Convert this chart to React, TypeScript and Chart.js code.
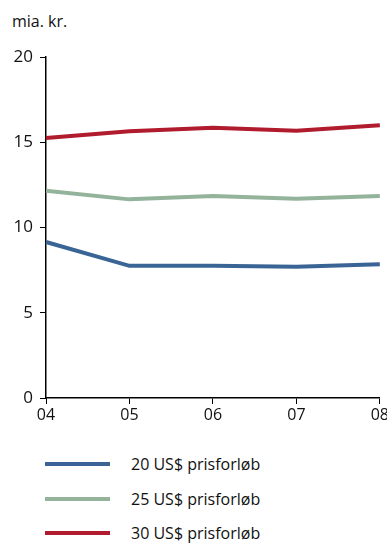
import React, { useEffect, useRef } from "react";
import { Chart, registerables } from "chart.js";

Chart.register(...registerables);

const years = ["04", "05", "06", "07", "08"];
const price20 = [9.15, 7.75, 7.75, 7.7, 7.85];
const price25 = [12.15, 11.65, 11.85, 11.68, 11.85];
const price30 = [15.25, 15.65, 15.85, 15.68, 16.0];
const yTicks = [0, 5, 10, 15, 20];

const seriesNames = ["20 US$ prisforløb", "25 US$ prisforløb", "30 US$ prisforløb"];
const seriesColors = ["#3a6495", "#93b39b", "#b01b2e"];

const FONT = "'Open Sans', 'Noto Sans', sans-serif";

export default function App() {
  const canvasRef = useRef<HTMLCanvasElement | null>(null);

  useEffect(() => {
    if (!canvasRef.current) return;
    const values = [price20, price25, price30];
    const chart = new Chart(canvasRef.current, {
      type: "line",
      data: {
        labels: years,
        datasets: values.map((v, i) => ({
          label: seriesNames[i],
          data: v,
          borderColor: seriesColors[i],
          backgroundColor: seriesColors[i],
          borderWidth: 4,
          pointRadius: 0,
          tension: 0,
          fill: false,
        })),
      },
      options: {
        animation: false,
        responsive: true,
        maintainAspectRatio: false,
        layout: { padding: { top: 57, right: 6, left: 0, bottom: 0 } },
        plugins: {
          legend: { display: false },
          tooltip: { enabled: false },
        },
        scales: {
          x: {
            offset: false,
            grid: {
              display: true,
              drawOnChartArea: false,
              drawTicks: true,
              tickLength: 6,
              color: "#000",
              lineWidth: 1,
            },
            border: { display: true, color: "#000", width: 1.5 },
            ticks: {
              color: "#111",
              font: { family: FONT, size: 16 },
              padding: 2,
              maxRotation: 0,
              autoSkip: false,
            },
            afterFit: (s: any) => {
              s.height = 32;
            },
          },
          y: {
            min: 0,
            max: 20,
            afterBuildTicks: (s: any) => {
              s.ticks = yTicks.map((v) => ({ value: v }));
            },
            grid: {
              display: true,
              drawOnChartArea: false,
              drawTicks: true,
              tickLength: 6,
              color: "#000",
              lineWidth: 1,
            },
            border: { display: true, color: "#000", width: 1.5 },
            ticks: {
              color: "#111",
              font: { family: FONT, size: 17 },
              padding: 7,
            },
            afterFit: (s: any) => {
              s.width = 46;
            },
          },
        },
      },
    });
    return () => chart.destroy();
  }, []);

  return (
    <div
      style={{
        position: "absolute",
        left: 0,
        top: 0,
        width: 387,
        height: 543,
        overflow: "hidden",
        background: "#fff",
        fontFamily: FONT,
        color: "#111",
      }}
    >
      <div style={{ position: "absolute", left: 12, top: 10, fontSize: 16 }}>mia. kr.</div>
      <div style={{ position: "absolute", left: 0, top: 0, width: 391, height: 430 }}>
        <canvas ref={canvasRef} />
      </div>
      {seriesNames.map((name, i) => (
        <div
          key={name}
          style={{
            position: "absolute",
            left: 45,
            top: 452 + i * 34.5,
            height: 24,
            display: "flex",
            alignItems: "center",
          }}
        >
          <div style={{ width: 65, height: 4, background: seriesColors[i] }} />
          <div style={{ marginLeft: 21, fontSize: 16, whiteSpace: "nowrap" }}>{name}</div>
        </div>
      ))}
    </div>
  );
}
